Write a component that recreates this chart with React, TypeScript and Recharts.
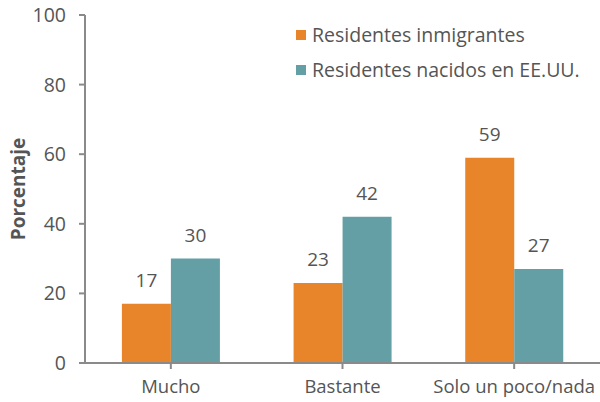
import { BarChart, Bar, XAxis, YAxis, LabelList } from "recharts";

const categories = ["Mucho", "Bastante", "Solo un poco/nada"];
const immigrants = [17, 23, 59];
const usBorn = [30, 42, 27];
const yTicks = [0, 20, 40, 60, 80, 100];

const seriesNames = ["Residentes inmigrantes", "Residentes nacidos en EE.UU."];
const colors = ["#E8842A", "#639FA5"];

const data = categories.map((name, i) => ({
  name,
  immigrants: immigrants[i],
  usBorn: usBorn[i],
}));

const FONT = "'Open Sans', sans-serif";
const TEXT = "#555555";
const AXIS = "#8a8a8a";

function LegendBox() {
  return (
    <div
      style={{
        position: "absolute",
        left: 296,
        top: 17,
        fontFamily: FONT,
        fontSize: 19.5,
        color: TEXT,
      }}
    >
      {seriesNames.map((n, i) => (
        <div key={n} style={{ display: "flex", alignItems: "center", height: 35, whiteSpace: "nowrap" }}>
          <span
            style={{
              width: 10,
              height: 10,
              background: colors[i],
              marginRight: 6,
              display: "inline-block",
            }}
          />
          {n}
        </div>
      ))}
    </div>
  );
}

export default function App() {
  return (
    <div style={{ position: "absolute", left: 0, top: 0, width: 600, height: 402, background: "#fff" }}>
      <BarChart
        width={600}
        height={402}
        data={data}
        margin={{ top: 15, right: 0, left: 0, bottom: 0 }}
        barGap={0}
        barCategoryGap="21.5%"
      >
        <XAxis
          dataKey="name"
          height={39}
          stroke={AXIS}
          strokeWidth={2}
          tickSize={6}
          tickMargin={11}
          interval={0}
          tick={{ fontSize: 18.5, fill: TEXT, fontFamily: FONT }}
        />
        <YAxis
          width={85}
          domain={[0, 100]}
          ticks={yTicks}
          stroke={AXIS}
          strokeWidth={2}
          tickSize={6}
          tickMargin={13}
          tick={{ fontSize: 19.5, fill: TEXT, fontFamily: FONT }}
          label={{
            value: "Porcentaje",
            angle: -90,
            position: "insideLeft",
            offset: 18,
            style: { fontSize: 19, fontWeight: 700, fill: TEXT, fontFamily: FONT, textAnchor: "middle" },
          }}
        />
        <Bar dataKey="immigrants" fill={colors[0]} isAnimationActive={false}>
          <LabelList dataKey="immigrants" position="top" offset={17} style={{ fontSize: 19, fill: TEXT, fontFamily: FONT }} />
        </Bar>
        <Bar dataKey="usBorn" fill={colors[1]} isAnimationActive={false}>
          <LabelList dataKey="usBorn" position="top" offset={17} style={{ fontSize: 19, fill: TEXT, fontFamily: FONT }} />
        </Bar>
      </BarChart>
      <LegendBox />
    </div>
  );
}
